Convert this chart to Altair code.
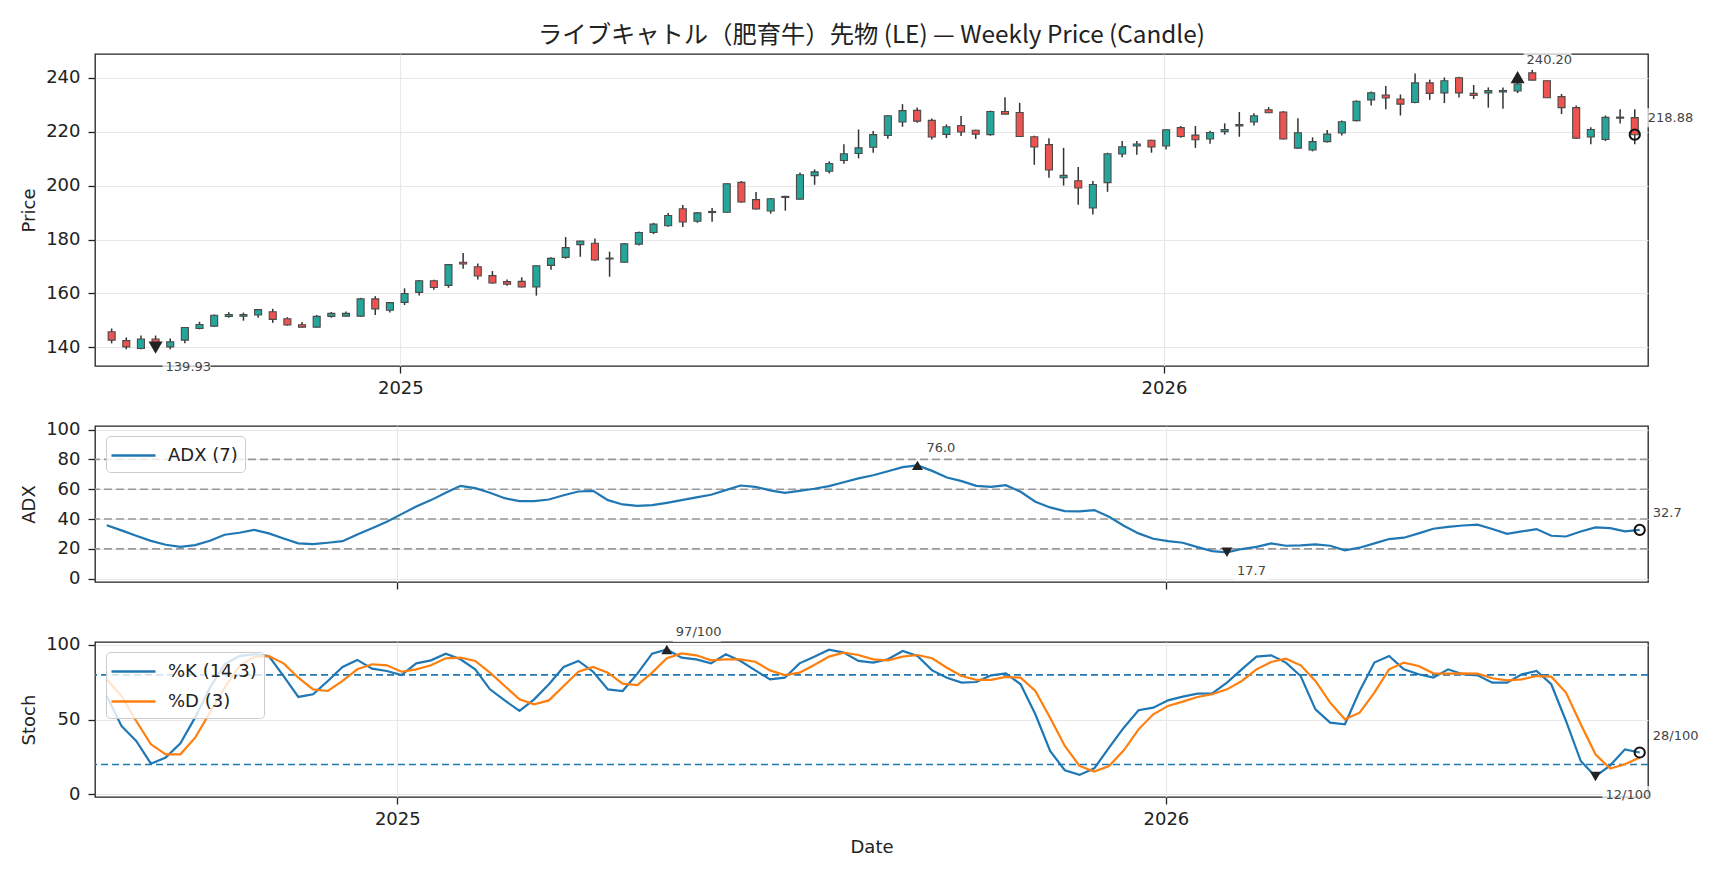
import altair as alt
import numpy as np
import pandas as pd

FONT = "DejaVu Sans"
TFONT = "Noto Sans CJK JP"
TITLE = "ライブキャトル（肥育牛）先物 (LE) — Weekly Price (Candle)"

# ---------------- data ----------------
first_week = "2024-08-16"
n_weeks = 105
dates = pd.date_range(first_week, periods=n_weeks, freq="7D").strftime("%Y-%m-%d").tolist()

open_ = [145.8, 142.5, 139.6, 143.1, 140.2, 142.7, 147.0, 147.9, 151.5, 151.6,
         152.0, 153.2, 150.6, 148.4, 147.5, 151.5, 151.6, 151.6, 158.0, 153.8,
         156.7, 160.4, 164.7, 163.0, 171.6, 169.9, 166.6, 164.4, 164.5, 162.4,
         170.4, 173.4, 178.1, 178.6, 173.1, 171.6, 178.3, 182.6, 185.1, 191.4,
         186.8, 190.0, 190.1, 201.2, 194.8, 190.6, 195.6, 195.0, 203.7, 205.3,
         209.3, 211.9, 214.2, 218.6, 223.6, 227.9, 224.2, 219.0, 222.3, 220.5,
         218.9, 227.5, 227.1, 218.1, 215.2, 202.9, 201.8, 191.7, 201.1, 211.7,
         214.7, 216.8, 214.7, 221.5, 218.7, 217.3, 220.0, 222.1, 223.6, 228.1,
         227.3, 213.9, 213.2, 216.3, 219.5, 224.1, 231.8, 233.6, 232.1, 230.8,
         238.1, 234.4, 240.0, 234.2, 234.4, 234.7, 235.1, 241.8, 238.9, 233.0,
         228.9, 218.0, 217.1, 225.0, 225.2]
high = [147.0, 143.7, 144.4, 144.4, 143.3, 147.5, 149.5, 152.2, 153.0, 152.9,
        154.1, 154.3, 151.2, 149.4, 152.0, 153.1, 153.3, 158.4, 159.0, 156.7,
        161.9, 165.0, 165.1, 170.9, 175.0, 171.1, 168.3, 165.2, 166.0, 170.3,
        173.4, 180.9, 179.4, 180.4, 175.5, 178.6, 183.0, 186.2, 189.8, 192.8,
        190.2, 191.7, 200.8, 201.7, 197.6, 195.4, 196.2, 204.9, 206.0, 209.0,
        215.3, 220.8, 220.2, 226.2, 230.2, 229.0, 224.9, 222.7, 225.8, 220.7,
        227.8, 232.8, 230.7, 218.5, 217.6, 214.0, 206.9, 201.7, 212.2, 216.5,
        216.5, 217.0, 220.8, 222.1, 222.1, 220.3, 223.1, 227.3, 226.8, 229.1,
        227.6, 225.0, 217.9, 220.6, 224.1, 231.6, 234.9, 236.9, 233.8, 241.6,
        239.3, 240.1, 240.4, 237.3, 236.4, 236.4, 240.2, 243.0, 239.0, 234.0,
        229.7, 221.6, 226.0, 228.3, 228.3]
low = [141.5, 139.3, 139.3, 139.93, 139.3, 141.5, 146.7, 147.7, 151.0, 149.9,
       151.0, 149.1, 148.0, 147.4, 147.3, 151.0, 151.5, 151.4, 152.0, 152.9,
       155.7, 159.2, 161.4, 162.1, 169.2, 165.2, 163.6, 162.9, 162.2, 159.2,
       168.8, 172.9, 173.6, 172.1, 166.2, 171.4, 177.8, 182.0, 184.7, 184.6,
       186.2, 186.6, 189.9, 193.6, 191.1, 189.6, 190.7, 194.8, 200.3, 204.5,
       208.1, 210.1, 212.2, 217.4, 221.8, 223.3, 217.1, 217.6, 218.4, 217.3,
       218.5, 226.5, 218.2, 207.7, 202.9, 200.0, 192.9, 189.3, 197.7, 210.5,
       211.4, 212.2, 213.4, 217.7, 214.0, 215.5, 218.9, 218.1, 222.3, 226.9,
       217.1, 213.7, 212.7, 216.0, 218.6, 223.8, 229.7, 228.3, 226.0, 230.5,
       231.8, 230.6, 232.7, 232.1, 228.9, 228.5, 234.3, 239.1, 232.6, 226.5,
       217.4, 215.3, 216.5, 223.0, 215.3]
close = [142.7, 140.2, 143.1, 141.2, 142.1, 147.4, 148.5, 151.9, 152.2, 152.2,
         154.0, 150.4, 148.3, 147.5, 151.5, 152.6, 152.6, 158.0, 154.3, 156.6,
         160.0, 164.7, 162.2, 170.7, 170.9, 166.5, 163.9, 163.4, 162.4, 170.3,
         173.0, 177.0, 179.4, 172.4, 172.8, 178.4, 182.6, 185.7, 188.9, 186.5,
         189.9, 190.4, 200.7, 193.9, 191.3, 195.1, 196.0, 204.0, 205.1, 208.2,
         211.8, 214.0, 218.9, 225.9, 227.8, 223.9, 218.0, 221.8, 219.9, 219.1,
         227.5, 226.5, 218.2, 214.3, 205.8, 203.8, 199.1, 200.4, 211.8, 214.4,
         215.4, 214.3, 220.7, 218.2, 217.0, 219.7, 220.8, 222.6, 225.9, 227.0,
         217.3, 219.6, 216.3, 219.1, 223.7, 231.3, 234.4, 232.5, 230.2, 238.1,
         234.2, 238.9, 234.4, 233.4, 235.2, 235.2, 237.7, 239.1, 232.6, 228.9,
         217.6, 220.8, 225.3, 225.4, 218.88]

adx = [35.9, 32.4, 28.8, 25.4, 22.8, 21.4, 22.5, 25.5, 29.5, 30.8,
       32.8, 30.4, 27.0, 23.7, 23.2, 24.1, 25.2, 29.7, 33.9, 38.2,
       43.3, 48.4, 52.7, 57.6, 62.3, 60.7, 57.6, 54.0, 52.0, 52.0,
       53.1, 56.0, 58.5, 58.9, 52.7, 49.8, 48.9, 49.3, 50.9, 52.7,
       54.5, 56.3, 59.4, 62.5, 61.6, 59.2, 57.6, 58.9, 60.3, 62.1,
       64.7, 67.3, 69.4, 72.1, 74.8, 76.0, 72.3, 67.9, 65.4, 62.3,
       61.6, 62.7, 58.3, 51.6, 47.8, 45.3, 45.1, 46.0, 41.5, 35.5,
       30.4, 26.8, 25.2, 24.1, 21.2, 18.5, 17.7, 19.9, 21.4, 23.7,
       22.1, 22.3, 23.0, 22.1, 19.0, 20.8, 23.7, 26.6, 27.5, 30.4,
       33.5, 34.8, 35.7, 36.2, 33.3, 30.1, 31.7, 33.3, 28.8, 28.3,
       31.7, 34.4, 33.9, 31.7, 32.7]

stoch_k = [65.8, 45.8, 35.7, 20.5, 24.6, 34.2, 51.5, 71.4, 87.1, 92.6,
           93.8, 92.6, 79.2, 65.2, 67.0, 75.9, 85.3, 90.0, 84.2, 82.6,
           79.9, 87.7, 89.7, 94.2, 90.4, 83.7, 70.3, 62.9, 55.8, 63.6,
           73.7, 85.3, 89.3, 82.1, 70.3, 69.2, 80.8, 94.2, 97.0, 91.5,
           90.4, 87.7, 93.8, 89.3, 83.0, 77.0, 78.1, 87.7, 92.2, 96.8,
           94.9, 89.3, 88.2, 90.4, 96.0, 92.6, 83.0, 78.1, 74.8, 75.2,
           79.7, 81.0, 73.7, 53.6, 29.0, 16.1, 13.0, 17.4, 31.3, 44.6,
           56.3, 58.0, 62.9, 65.4, 67.4, 67.6, 74.8, 83.7, 92.2, 93.1,
           88.2, 79.2, 56.9, 48.0, 46.9, 69.2, 88.2, 92.6, 83.7, 80.4,
           78.1, 83.7, 80.4, 79.7, 74.8, 74.8, 80.4, 82.6, 73.7, 49.1,
           22.3, 12.0, 19.4, 30.1, 28.0]
stoch_d = [77.0, 65.8, 49.1, 33.5, 26.8, 26.8, 37.9, 54.7, 71.4, 85.9,
           92.0, 92.6, 87.7, 78.1, 70.3, 69.2, 75.9, 83.7, 87.1, 86.4,
           82.1, 83.7, 86.4, 91.1, 91.5, 89.3, 81.5, 72.5, 63.6, 60.3,
           62.9, 72.5, 82.1, 85.3, 81.5, 74.1, 73.2, 81.5, 91.1, 94.4,
           93.1, 89.7, 90.4, 90.4, 88.8, 83.0, 79.9, 81.5, 86.6, 92.2,
           94.9, 93.3, 90.4, 89.7, 92.2, 93.3, 91.1, 84.8, 79.2, 76.6,
           76.6, 78.6, 78.1, 69.2, 51.3, 32.4, 19.0, 15.2, 19.0, 29.5,
           43.5, 53.6, 59.2, 62.1, 65.2, 67.0, 70.3, 75.9, 83.7, 88.6,
           90.8, 86.4, 75.9, 61.4, 50.2, 54.7, 68.1, 83.7, 88.2, 85.9,
           81.0, 80.8, 81.0, 80.8, 77.7, 76.3, 77.0, 79.2, 78.8, 68.1,
           46.9, 26.8, 17.2, 20.1, 24.6]

price_ticks = [140, 160, 180, 200, 220, 240]
adx_ticks = [0, 20, 40, 60, 80, 100]
adx_levels = [20, 40, 60, 80]
stoch_ticks = [0, 50, 100]
stoch_levels = [20, 80]
year_ticks = ["2025-01-01", "2026-01-01"]

# annotated points: (week index, value, label, kind)
price_notes = [(96, 240.20, "240.20", "hi"), (3, 139.93, "139.93", "lo"), (104, 218.88, "218.88", "last")]
adx_notes = [(55, 76.0, "76.0", "hi"), (76, 17.7, "17.7", "lo"), (104, 32.7, "32.7", "last")]
stoch_notes = [(38, 97, "97/100", "hi"), (101, 12, "12/100", "lo"), (104, 28, "28/100", "last")]

# ---------------- helpers ----------------
def ms(s):
    return int(pd.Timestamp(s, tz="UTC").value // 10**6)

X_DOMAIN = [ms("2024-08-10 10:30"), ms("2026-08-17 22:30")]
W = 1553
GREEN, RED = "#26a69a", "#ef5350"
BLUE, ORANGE = "#1f77b4", "#ff7f0e"


def xenc(labels=True, title=None):
    return alt.X("date:T",
                 scale=alt.Scale(type="utc", domain=X_DOMAIN),
                 axis=alt.Axis(values=[ms(t) for t in year_ticks], format="%Y",
                               labels=labels, grid=True),
                 title=title)


def yenc(field, domain, ticks, title):
    return alt.Y(field, scale=alt.Scale(domain=domain, nice=False, zero=False),
                 axis=alt.Axis(values=ticks, grid=True), title=title)


def notes_layers(notes, field_title, domain, ticks, tri_size, box_w, xl=True, xt=None):
    nd = pd.DataFrame({"date": [dates[i] for i, _, _, _ in notes],
                       "v": [v for _, v, _, _ in notes],
                       "label": [l for _, _, l, _ in notes],
                       "kind": [k for _, _, _, k in notes]})
    base = alt.Chart(nd).encode(x=xenc(xl, xt), y=yenc("v:Q", domain, ticks, field_title))
    layers = [
        base.transform_filter("datum.kind == 'hi'").mark_point(
            shape="triangle-up", filled=True, size=tri_size, color="#222", opacity=1),
        base.transform_filter("datum.kind == 'lo'").mark_point(
            shape="triangle-down", filled=True, size=tri_size, color="#222", opacity=1),
        base.transform_filter("datum.kind == 'last'").mark_point(
            shape="circle", filled=False, size=105, color="#111", strokeWidth=2, opacity=1),
    ]
    path = "M-1,-%.3fL1,-%.3fL1,%.3fL-1,%.3fZ" % ((19 / box_w,) * 4)
    offs = {"hi": (9, -17), "lo": (10, 19), "last": (13, -17)}
    for kind, (dx, dy) in offs.items():
        sub = base.transform_filter("datum.kind == '%s'" % kind)
        layers.append(sub.mark_point(shape=path, filled=True, fill="white", fillOpacity=0.72,
                                     strokeWidth=0, size=box_w * box_w,
                                     xOffset=dx + box_w / 2 - 3, yOffset=dy))
        layers.append(sub.mark_text(align="left", baseline="middle", dx=dx, dy=dy,
                                    fontSize=13, color="#444").encode(text="label:N"))
    return layers


legend_kw = dict(title=None, orient="none", legendX=11, legendY=10,
                 fillColor="rgba(255,255,255,0.8)", strokeColor="#cccccc", cornerRadius=4,
                 padding=7, symbolType="M-2,0L2,0", symbolSize=484, symbolOffset=8,
                 symbolStrokeWidth=2.5, labelFontSize=18, labelColor="#222",
                 rowPadding=8, labelOffset=22, labelFont=FONT)

# ---------------- price panel ----------------
pdf = pd.DataFrame({"date": dates, "open": open_, "high": high, "low": low, "close": close})
pdf["dir"] = np.where(pdf["close"] >= pdf["open"], "up", "down")
P_DOM = [133.1, 248.8]

wick = alt.Chart(pdf).mark_rule(color="#333", strokeWidth=1.5).encode(
    x=xenc(), y=yenc("low:Q", P_DOM, price_ticks, "Price"), y2="high:Q")
body = alt.Chart(pdf).mark_bar(size=7, stroke="#4a4a4a", strokeWidth=1.1).encode(
    x=xenc(), y=yenc("open:Q", P_DOM, price_ticks, "Price"), y2="close:Q",
    color=alt.Color("dir:N", scale=alt.Scale(domain=["up", "down"], range=[GREEN, RED]), legend=None))
price = alt.layer(wick, body, *notes_layers(price_notes, "Price", P_DOM, price_ticks, 200, 48)
                  ).properties(width=W, height=312)

# ---------------- ADX panel ----------------
A_DOM = [-2.2, 102.4]
adf = pd.DataFrame({"date": dates, "v": adx, "series": "ADX (7)"})
lvl_a = pd.DataFrame({"v": adx_levels})

adx_levels_l = alt.Chart(lvl_a).mark_rule(color="#999999", strokeWidth=1.6, strokeDash=[8, 4]).encode(
    y=yenc("v:Q", A_DOM, adx_ticks, "ADX"))
adx_line = alt.Chart(adf).mark_line(strokeWidth=2.2).encode(
    x=xenc(labels=False), y=yenc("v:Q", A_DOM, adx_ticks, "ADX"),
    color=alt.Color("series:N", scale=alt.Scale(domain=["ADX (7)"], range=[BLUE]),
                    legend=alt.Legend(**legend_kw)))
adx_chart = alt.layer(adx_levels_l, adx_line,
                      *notes_layers(adx_notes, "ADX", A_DOM, adx_ticks, 120, 34, xl=False)
                      ).properties(width=W, height=156)

# ---------------- Stoch panel ----------------
S_DOM = [-1.8, 102.0]
sdf = pd.concat([
    pd.DataFrame({"date": dates, "v": stoch_k, "series": "%K (14,3)"}),
    pd.DataFrame({"date": dates, "v": stoch_d, "series": "%D (3)"}),
])
lvl_s = pd.DataFrame({"v": stoch_levels})
st_levels_l = alt.Chart(lvl_s).mark_rule(color=BLUE, strokeWidth=1.6, strokeDash=[7, 4]).encode(
    y=yenc("v:Q", S_DOM, stoch_ticks, "Stoch"))
st_lines = alt.Chart(sdf).mark_line(strokeWidth=2.2).encode(
    x=xenc(title="Date"), y=yenc("v:Q", S_DOM, stoch_ticks, "Stoch"),
    color=alt.Color("series:N", scale=alt.Scale(domain=["%K (14,3)", "%D (3)"], range=[BLUE, ORANGE]),
                    legend=alt.Legend(**legend_kw)))
st_chart = alt.layer(st_levels_l, st_lines,
                     *notes_layers(stoch_notes, "Stoch", S_DOM, stoch_ticks, 120, 48, xt="Date")
                     ).properties(width=W, height=155)

chart = alt.vconcat(price, adx_chart, st_chart, spacing=60, bounds="flush").resolve_scale(
    color="independent", y="independent", x="independent"
).properties(
    title=alt.TitleParams(TITLE, anchor="middle", frame="group", offset=1.4, dx=0),
    padding={"left": 11, "top": 16, "right": 10, "bottom": 8},
).configure_view(stroke="#222", strokeWidth=1.3).configure_axis(
    labelFont=FONT, titleFont=FONT, labelFontSize=18, titleFontSize=18,
    labelColor="#222", titleColor="#222", tickColor="#222", tickSize=7, tickWidth=1.3,
    domain=False, gridColor="#e8e8e8", gridWidth=1.2, titleFontWeight="normal",
).configure_axisX(labelPadding=6, titlePadding=10
).configure_axisY(labelPadding=8, titlePadding=7
).configure_title(font=TFONT, fontSize=24.3, fontWeight="normal", color="#222"
).configure_legend(labelFont=FONT).configure_text(font=FONT)

chart.save("out.html", embed_options={"renderer": "svg", "actions": False})
